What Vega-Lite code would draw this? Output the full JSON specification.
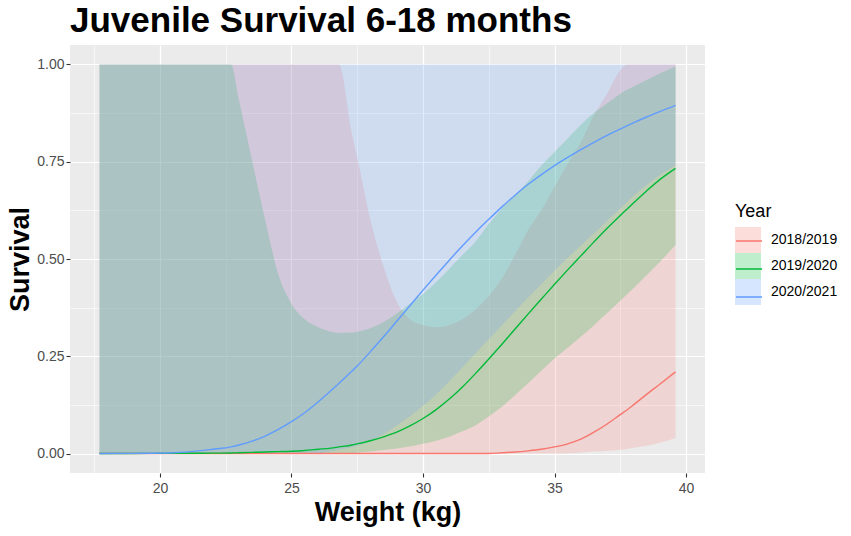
{
  "$schema": "https://vega.github.io/schema/vega-lite/v6.json",
  "autosize": {"type": "none"},
  "padding": {"left": 70, "top": 45, "right": 146, "bottom": 63},
  "width": 635,
  "height": 428,
  "background": "white",
  "title": {
    "text": "Juvenile Survival 6-18 months",
    "anchor": "start",
    "frame": "group",
    "fontSize": 35,
    "fontWeight": "bold",
    "color": "black",
    "offset": 6
  },
  "config": {
    "font": "Liberation Sans",
    "view": {"fill": "#EBEBEB", "stroke": null},
    "axis": {
      "domain": false,
      "grid": true,
      "gridColor": "white",
      "tickSize": 4,
      "tickWidth": 1.1,
      "labelFontSize": 14,
      "labelColor": "#4D4D4D",
      "labelFlush": false,
      "labelOverlap": false,
      "titleFontSize": 27,
      "titleFontWeight": "bold",
      "titleColor": "black"
    }
  },
  "data": {
    "values": [
      {"Weight": 17.7, "Year": "2018/2019", "Survival": 0, "lo": 0, "hi": 1},
      {"Weight": 19, "Year": "2018/2019", "Survival": 0, "lo": 0, "hi": 1},
      {"Weight": 20.5, "Year": "2018/2019", "Survival": 0, "lo": 0, "hi": 1},
      {"Weight": 22, "Year": "2018/2019", "Survival": 0, "lo": 0, "hi": 1},
      {"Weight": 22.7, "Year": "2018/2019", "Survival": 0, "lo": 0, "hi": 1},
      {"Weight": 23, "Year": "2018/2019", "Survival": 0, "lo": 0, "hi": 1},
      {"Weight": 23.5, "Year": "2018/2019", "Survival": 0, "lo": 0, "hi": 1},
      {"Weight": 24, "Year": "2018/2019", "Survival": 0, "lo": 0, "hi": 1},
      {"Weight": 24.5, "Year": "2018/2019", "Survival": 0, "lo": 0, "hi": 1},
      {"Weight": 25, "Year": "2018/2019", "Survival": 0, "lo": 0, "hi": 1},
      {"Weight": 25.5, "Year": "2018/2019", "Survival": 0, "lo": 0, "hi": 1},
      {"Weight": 26, "Year": "2018/2019", "Survival": 0, "lo": 0, "hi": 1},
      {"Weight": 26.5, "Year": "2018/2019", "Survival": 0, "lo": 0, "hi": 1},
      {"Weight": 26.8, "Year": "2018/2019", "Survival": 0, "lo": 0, "hi": 1},
      {"Weight": 27.3, "Year": "2018/2019", "Survival": 0, "lo": 0, "hi": 0.82},
      {"Weight": 27.5, "Year": "2018/2019", "Survival": 0, "lo": 0, "hi": 0.76},
      {"Weight": 28, "Year": "2018/2019", "Survival": 0, "lo": 0, "hi": 0.6},
      {"Weight": 28.5, "Year": "2018/2019", "Survival": 0, "lo": 0, "hi": 0.48},
      {"Weight": 29, "Year": "2018/2019", "Survival": 0, "lo": 0, "hi": 0.39},
      {"Weight": 29.5, "Year": "2018/2019", "Survival": 0, "lo": 0, "hi": 0.345},
      {"Weight": 30, "Year": "2018/2019", "Survival": 0, "lo": 0, "hi": 0.33},
      {"Weight": 30.5, "Year": "2018/2019", "Survival": 0, "lo": 0, "hi": 0.325},
      {"Weight": 31, "Year": "2018/2019", "Survival": 0, "lo": 0, "hi": 0.33},
      {"Weight": 31.5, "Year": "2018/2019", "Survival": 0, "lo": 0, "hi": 0.345},
      {"Weight": 32, "Year": "2018/2019", "Survival": 0, "lo": 0, "hi": 0.37},
      {"Weight": 32.5, "Year": "2018/2019", "Survival": 0, "lo": 0, "hi": 0.405},
      {"Weight": 33, "Year": "2018/2019", "Survival": 0.002, "lo": 0, "hi": 0.45},
      {"Weight": 33.5, "Year": "2018/2019", "Survival": 0.004, "lo": 0, "hi": 0.51},
      {"Weight": 34, "Year": "2018/2019", "Survival": 0.007, "lo": 0, "hi": 0.575},
      {"Weight": 34.5, "Year": "2018/2019", "Survival": 0.011, "lo": 0, "hi": 0.625},
      {"Weight": 35, "Year": "2018/2019", "Survival": 0.017, "lo": 0, "hi": 0.685},
      {"Weight": 35.5, "Year": "2018/2019", "Survival": 0.025, "lo": 0.001, "hi": 0.745},
      {"Weight": 36, "Year": "2018/2019", "Survival": 0.037, "lo": 0.003, "hi": 0.8},
      {"Weight": 36.5, "Year": "2018/2019", "Survival": 0.055, "lo": 0.005, "hi": 0.87},
      {"Weight": 37, "Year": "2018/2019", "Survival": 0.076, "lo": 0.007, "hi": 0.925},
      {"Weight": 37.5, "Year": "2018/2019", "Survival": 0.1, "lo": 0.01, "hi": 0.985},
      {"Weight": 37.75, "Year": "2018/2019", "Survival": 0.112, "lo": 0.012, "hi": 1},
      {"Weight": 38, "Year": "2018/2019", "Survival": 0.125, "lo": 0.015, "hi": 1},
      {"Weight": 38.5, "Year": "2018/2019", "Survival": 0.152, "lo": 0.02, "hi": 1},
      {"Weight": 39, "Year": "2018/2019", "Survival": 0.178, "lo": 0.028, "hi": 1},
      {"Weight": 39.6, "Year": "2018/2019", "Survival": 0.21, "lo": 0.04, "hi": 1},

      {"Weight": 17.7, "Year": "2019/2020", "Survival": 0, "lo": 0, "hi": 1},
      {"Weight": 19, "Year": "2019/2020", "Survival": 0.0003, "lo": 0, "hi": 1},
      {"Weight": 20.5, "Year": "2019/2020", "Survival": 0.0006, "lo": 0, "hi": 1},
      {"Weight": 22, "Year": "2019/2020", "Survival": 0.001, "lo": 0, "hi": 1},
      {"Weight": 22.7, "Year": "2019/2020", "Survival": 0.0015, "lo": 0, "hi": 1},
      {"Weight": 23, "Year": "2019/2020", "Survival": 0.002, "lo": 0, "hi": 0.91},
      {"Weight": 23.5, "Year": "2019/2020", "Survival": 0.003, "lo": 0, "hi": 0.754},
      {"Weight": 24, "Year": "2019/2020", "Survival": 0.004, "lo": 0, "hi": 0.6},
      {"Weight": 24.5, "Year": "2019/2020", "Survival": 0.005, "lo": 0, "hi": 0.46},
      {"Weight": 25, "Year": "2019/2020", "Survival": 0.006, "lo": 0, "hi": 0.385},
      {"Weight": 25.5, "Year": "2019/2020", "Survival": 0.008, "lo": 0, "hi": 0.345},
      {"Weight": 26, "Year": "2019/2020", "Survival": 0.011, "lo": 0, "hi": 0.325},
      {"Weight": 26.5, "Year": "2019/2020", "Survival": 0.014, "lo": 0, "hi": 0.313},
      {"Weight": 26.8, "Year": "2019/2020", "Survival": 0.017, "lo": 0, "hi": 0.31},
      {"Weight": 27.3, "Year": "2019/2020", "Survival": 0.022, "lo": 0, "hi": 0.311},
      {"Weight": 27.5, "Year": "2019/2020", "Survival": 0.025, "lo": 0.002, "hi": 0.313},
      {"Weight": 28, "Year": "2019/2020", "Survival": 0.033, "lo": 0.005, "hi": 0.322},
      {"Weight": 28.5, "Year": "2019/2020", "Survival": 0.043, "lo": 0.009, "hi": 0.338},
      {"Weight": 29, "Year": "2019/2020", "Survival": 0.055, "lo": 0.013, "hi": 0.36},
      {"Weight": 29.5, "Year": "2019/2020", "Survival": 0.071, "lo": 0.018, "hi": 0.385},
      {"Weight": 30, "Year": "2019/2020", "Survival": 0.09, "lo": 0.025, "hi": 0.41},
      {"Weight": 30.5, "Year": "2019/2020", "Survival": 0.113, "lo": 0.033, "hi": 0.44},
      {"Weight": 31, "Year": "2019/2020", "Survival": 0.14, "lo": 0.043, "hi": 0.475},
      {"Weight": 31.5, "Year": "2019/2020", "Survival": 0.171, "lo": 0.057, "hi": 0.51},
      {"Weight": 32, "Year": "2019/2020", "Survival": 0.206, "lo": 0.073, "hi": 0.545},
      {"Weight": 32.5, "Year": "2019/2020", "Survival": 0.243, "lo": 0.095, "hi": 0.59},
      {"Weight": 33, "Year": "2019/2020", "Survival": 0.281, "lo": 0.12, "hi": 0.63},
      {"Weight": 33.5, "Year": "2019/2020", "Survival": 0.32, "lo": 0.15, "hi": 0.665},
      {"Weight": 34, "Year": "2019/2020", "Survival": 0.359, "lo": 0.181, "hi": 0.7},
      {"Weight": 34.5, "Year": "2019/2020", "Survival": 0.397, "lo": 0.213, "hi": 0.74},
      {"Weight": 35, "Year": "2019/2020", "Survival": 0.435, "lo": 0.244, "hi": 0.775},
      {"Weight": 35.5, "Year": "2019/2020", "Survival": 0.472, "lo": 0.272, "hi": 0.81},
      {"Weight": 36, "Year": "2019/2020", "Survival": 0.508, "lo": 0.3, "hi": 0.845},
      {"Weight": 36.5, "Year": "2019/2020", "Survival": 0.544, "lo": 0.33, "hi": 0.875},
      {"Weight": 37, "Year": "2019/2020", "Survival": 0.579, "lo": 0.361, "hi": 0.9},
      {"Weight": 37.5, "Year": "2019/2020", "Survival": 0.612, "lo": 0.393, "hi": 0.925},
      {"Weight": 37.75, "Year": "2019/2020", "Survival": 0.628, "lo": 0.409, "hi": 0.935},
      {"Weight": 38, "Year": "2019/2020", "Survival": 0.644, "lo": 0.425, "hi": 0.943},
      {"Weight": 38.5, "Year": "2019/2020", "Survival": 0.675, "lo": 0.458, "hi": 0.96},
      {"Weight": 39, "Year": "2019/2020", "Survival": 0.704, "lo": 0.492, "hi": 0.977},
      {"Weight": 39.6, "Year": "2019/2020", "Survival": 0.733, "lo": 0.536, "hi": 0.995},

      {"Weight": 17.7, "Year": "2020/2021", "Survival": 0, "lo": 0, "hi": 1},
      {"Weight": 19, "Year": "2020/2021", "Survival": 0.0005, "lo": 0, "hi": 1},
      {"Weight": 20.5, "Year": "2020/2021", "Survival": 0.002, "lo": 0, "hi": 1},
      {"Weight": 22, "Year": "2020/2021", "Survival": 0.011, "lo": 0, "hi": 1},
      {"Weight": 22.7, "Year": "2020/2021", "Survival": 0.017, "lo": 0, "hi": 1},
      {"Weight": 23, "Year": "2020/2021", "Survival": 0.022, "lo": 0, "hi": 1},
      {"Weight": 23.5, "Year": "2020/2021", "Survival": 0.032, "lo": 0, "hi": 1},
      {"Weight": 24, "Year": "2020/2021", "Survival": 0.045, "lo": 0, "hi": 1},
      {"Weight": 24.5, "Year": "2020/2021", "Survival": 0.062, "lo": 0, "hi": 1},
      {"Weight": 25, "Year": "2020/2021", "Survival": 0.082, "lo": 0, "hi": 1},
      {"Weight": 25.5, "Year": "2020/2021", "Survival": 0.105, "lo": 0, "hi": 1},
      {"Weight": 26, "Year": "2020/2021", "Survival": 0.132, "lo": 0, "hi": 1},
      {"Weight": 26.5, "Year": "2020/2021", "Survival": 0.162, "lo": 0.006, "hi": 1},
      {"Weight": 26.8, "Year": "2020/2021", "Survival": 0.18, "lo": 0.01, "hi": 1},
      {"Weight": 27.3, "Year": "2020/2021", "Survival": 0.212, "lo": 0.016, "hi": 1},
      {"Weight": 27.5, "Year": "2020/2021", "Survival": 0.225, "lo": 0.02, "hi": 1},
      {"Weight": 28, "Year": "2020/2021", "Survival": 0.262, "lo": 0.032, "hi": 1},
      {"Weight": 28.5, "Year": "2020/2021", "Survival": 0.3, "lo": 0.05, "hi": 1},
      {"Weight": 29, "Year": "2020/2021", "Survival": 0.34, "lo": 0.072, "hi": 1},
      {"Weight": 29.5, "Year": "2020/2021", "Survival": 0.38, "lo": 0.096, "hi": 1},
      {"Weight": 30, "Year": "2020/2021", "Survival": 0.42, "lo": 0.122, "hi": 1},
      {"Weight": 30.5, "Year": "2020/2021", "Survival": 0.459, "lo": 0.152, "hi": 1},
      {"Weight": 31, "Year": "2020/2021", "Survival": 0.497, "lo": 0.186, "hi": 1},
      {"Weight": 31.5, "Year": "2020/2021", "Survival": 0.534, "lo": 0.222, "hi": 1},
      {"Weight": 32, "Year": "2020/2021", "Survival": 0.569, "lo": 0.258, "hi": 1},
      {"Weight": 32.5, "Year": "2020/2021", "Survival": 0.602, "lo": 0.294, "hi": 1},
      {"Weight": 33, "Year": "2020/2021", "Survival": 0.634, "lo": 0.33, "hi": 1},
      {"Weight": 33.5, "Year": "2020/2021", "Survival": 0.664, "lo": 0.366, "hi": 1},
      {"Weight": 34, "Year": "2020/2021", "Survival": 0.692, "lo": 0.401, "hi": 1},
      {"Weight": 34.5, "Year": "2020/2021", "Survival": 0.717, "lo": 0.436, "hi": 1},
      {"Weight": 35, "Year": "2020/2021", "Survival": 0.74, "lo": 0.47, "hi": 1},
      {"Weight": 35.5, "Year": "2020/2021", "Survival": 0.761, "lo": 0.503, "hi": 1},
      {"Weight": 36, "Year": "2020/2021", "Survival": 0.781, "lo": 0.535, "hi": 1},
      {"Weight": 36.5, "Year": "2020/2021", "Survival": 0.8, "lo": 0.566, "hi": 1},
      {"Weight": 37, "Year": "2020/2021", "Survival": 0.818, "lo": 0.598, "hi": 1},
      {"Weight": 37.5, "Year": "2020/2021", "Survival": 0.834, "lo": 0.63, "hi": 1},
      {"Weight": 37.75, "Year": "2020/2021", "Survival": 0.842, "lo": 0.646, "hi": 1},
      {"Weight": 38, "Year": "2020/2021", "Survival": 0.85, "lo": 0.662, "hi": 1},
      {"Weight": 38.5, "Year": "2020/2021", "Survival": 0.865, "lo": 0.69, "hi": 1},
      {"Weight": 39, "Year": "2020/2021", "Survival": 0.879, "lo": 0.716, "hi": 1},
      {"Weight": 39.6, "Year": "2020/2021", "Survival": 0.895, "lo": 0.74, "hi": 1}
    ]
  },
  "encoding": {
    "x": {
      "field": "Weight",
      "type": "quantitative",
      "scale": {"domain": [16.58, 40.72], "nice": false, "zero": false},
      "axis": {
        "title": "Weight (kg)",
        "values": [17.5, 20, 22.5, 25, 27.5, 30, 32.5, 35, 37.5, 40],
        "labelExpr": "datum.value % 5 === 0 ? format(datum.value, 'd') : ''",
        "gridWidth": {"condition": {"test": "datum.value % 5 === 0", "value": 1.2}, "value": 0.6},
        "tickColor": {"condition": {"test": "datum.value % 5 === 0", "value": "#333333"}, "value": "transparent"},
        "labelPadding": 4,
        "titlePadding": 4
      }
    }
  },
  "layer": [
    {
      "mark": {"type": "area", "fillOpacity": 0.2, "interpolate": "monotone"},
      "encoding": {
        "y": {
          "field": "lo",
          "type": "quantitative",
          "scale": {"domain": [-0.05, 1.05], "nice": false, "zero": false},
          "axis": {
            "title": "Survival",
            "values": [0, 0.125, 0.25, 0.375, 0.5, 0.625, 0.75, 0.875, 1],
            "labelExpr": "(datum.value * 4) % 1 === 0 ? format(datum.value, '.2f') : ''",
            "gridWidth": {"condition": {"test": "(datum.value * 4) % 1 === 0", "value": 1.2}, "value": 0.6},
            "tickColor": {"condition": {"test": "(datum.value * 4) % 1 === 0", "value": "#333333"}, "value": "transparent"},
            "labelPadding": 2,
            "titlePadding": 2
          }
        },
        "y2": {"field": "hi"},
        "fill": {
          "field": "Year",
          "type": "nominal",
          "scale": {
            "domain": ["2018/2019", "2019/2020", "2020/2021"],
            "range": ["#F8766D", "#00BA38", "#619CFF"]
          },
          "legend": {
            "orient": "none",
            "legendX": 665,
            "legendY": 158,
            "title": "Year",
            "titleFontSize": 18,
            "titleFontWeight": "normal",
            "titleColor": "black",
            "titlePadding": 6,
            "labelFontSize": 14,
            "labelColor": "black",
            "labelOffset": 10,
            "symbolType": "square",
            "symbolSize": 676,
            "symbolStrokeWidth": 0,
            "symbolOpacity": 0.25,
            "rowPadding": 0,
            "padding": 0
          }
        }
      }
    },
    {
      "mark": {"type": "line", "strokeWidth": 1.4, "interpolate": "monotone"},
      "encoding": {
        "y": {
          "field": "Survival",
          "type": "quantitative",
          "axis": {
            "title": "Survival",
            "values": [0, 0.125, 0.25, 0.375, 0.5, 0.625, 0.75, 0.875, 1],
            "labelExpr": "(datum.value * 4) % 1 === 0 ? format(datum.value, '.2f') : ''",
            "gridWidth": {"condition": {"test": "(datum.value * 4) % 1 === 0", "value": 1.2}, "value": 0.6},
            "tickColor": {"condition": {"test": "(datum.value * 4) % 1 === 0", "value": "#333333"}, "value": "transparent"},
            "labelPadding": 2,
            "titlePadding": 2
          }
        },
        "stroke": {
          "field": "Year",
          "type": "nominal",
          "scale": {"range": ["#F8766D", "#00BA38", "#619CFF"]},
          "legend": {
            "orient": "none",
            "legendX": 665,
            "legendY": 158,
            "title": " ",
            "titleFontSize": 18,
            "titleFontWeight": "normal",
            "titleOpacity": 0,
            "titlePadding": 6,
            "labelFontSize": 14,
            "labelExpr": "''",
            "labelOffset": 10,
            "symbolType": "M-1,-0.77M-1,0L1,0M1,0.77",
            "symbolSize": 676,
            "symbolStrokeWidth": 1.5,
            "rowPadding": 0,
            "padding": 0,
            "zindex": 1
          }
        }
      }
    }
  ]
}
